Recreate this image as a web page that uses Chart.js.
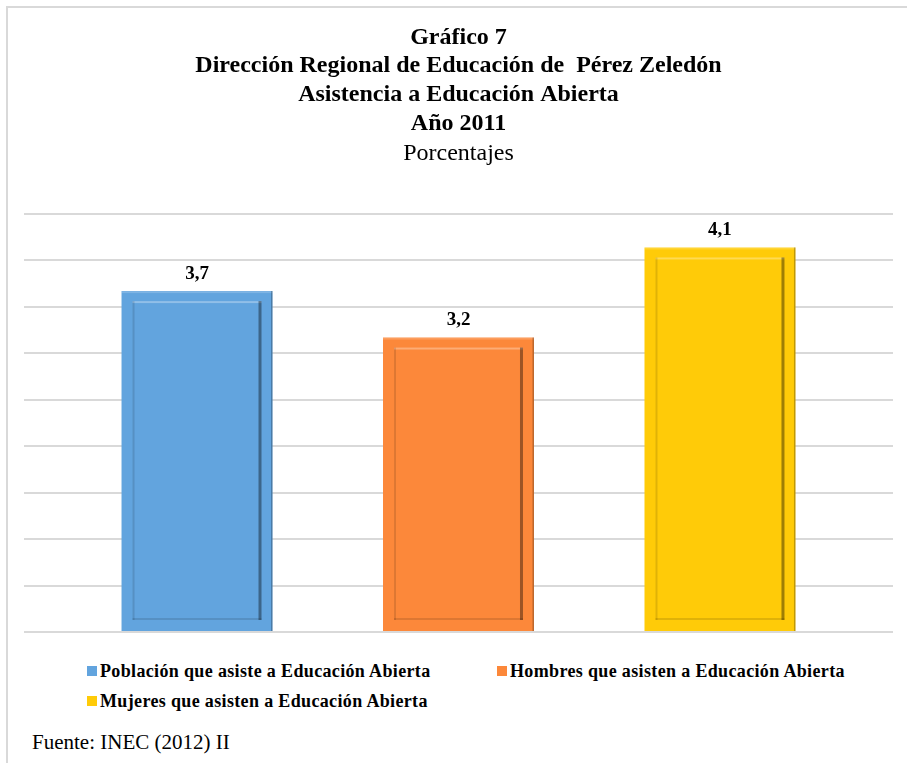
<!DOCTYPE html>
<html>
<head>
<meta charset="utf-8">
<script src="https://cdn.jsdelivr.net/npm/chart.js@4.4.1/dist/chart.umd.min.js"></script>
<style>
    html, body { margin: 0; padding: 0; background: #fff; width: 907px; height: 763px; overflow: hidden; }
    #frame { position: absolute; left: 6px; top: 6px; width: 1000px; height: 900px;
             border-left: 2px solid #d9d9d9; border-top: 2px solid #d9d9d9; }
    #wrap { position: absolute; left: 0; top: 0; width: 907px; height: 640px; }
    #legend { position: absolute; left: 87px; top: 660px; margin: 0; padding: 0; list-style: none;
              display: grid; grid-template-columns: 410px auto; row-gap: 8px;
              font: bold 18px "Liberation Serif", "DejaVu Serif", serif; letter-spacing: 0.35px; color: #000; }
    #legend li { display: flex; align-items: center; height: 22px; white-space: nowrap; }
    #legend .box { width: 10px; height: 10px; margin-right: 3px; flex: none; }
    #source { position: absolute; left: 32px; top: 730px; font: 21px "Liberation Serif", "DejaVu Serif", serif; color: #000; }
</style>
</head>
<body>
<div id="frame"></div>
<div id="wrap"><canvas id="chart"></canvas></div>
<ul id="legend"></ul>
<div id="source">Fuente: INEC (2012) II</div>
<script>
// Data
const CATEGORY = [''];
const SERIES_NAMES = [
    'Población que asiste a Educación Abierta',
    'Hombres que asisten a Educación Abierta',
    'Mujeres que asisten a Educación Abierta'
];
const SERIES_VALUES = [3.67, 3.17, 4.14];
const SERIES_COLORS = ['#62a4de', '#fc883a', '#ffcb08'];
const Y_MAX = 4.5;
const Y_STEP = 0.5;

const SERIF = '"Liberation Serif", "DejaVu Serif", serif';

// value labels above each bar, comma as decimal mark
const valueLabels = {
    id: 'valueLabels',
    afterDatasetsDraw(chart) {
        const ctx = chart.ctx;
        ctx.save();
        ctx.font = 'bold 19px ' + SERIF;
        ctx.fillStyle = '#000';
        ctx.textAlign = 'center';
        ctx.textBaseline = 'middle';
        chart.data.datasets.forEach((ds, i) => {
            const bar = chart.getDatasetMeta(i).data[0];
            const txt = Number(ds.data[0]).toFixed(1).replace('.', ',');
            ctx.fillText(txt, bar.x, bar.y - 17);
        });
        ctx.restore();
    }
};

// bevel look of the Excel bars
const bevel = {
    id: 'bevel',
    afterDatasetsDraw(chart) {
        const ctx = chart.ctx;
        const inset = 11;
        ctx.save();
        chart.data.datasets.forEach((ds, i) => {
            const bar = chart.getDatasetMeta(i).data[0];
            const p = bar.getProps(['x', 'y', 'base', 'width'], true);
            const l = p.x - p.width / 2, r = p.x + p.width / 2;
            const t = p.y, b = p.base;
            // outer edges
            ctx.fillStyle = 'rgba(255,255,255,0.18)';
            ctx.fillRect(l, t, r - l, 2);
            ctx.fillStyle = 'rgba(0,0,0,0.25)';
            ctx.fillRect(r - 1.5, t, 1.5, b - t);
            // inner panel edges
            const il = l + inset, ir = r - inset, it = t + inset - 1, ib = b - inset;
            ctx.fillStyle = 'rgba(255,255,255,0.3)';
            ctx.fillRect(il, it, ir - il, 2);
            ctx.fillStyle = 'rgba(0,0,0,0.12)';
            ctx.fillRect(il, it, 2, ib - it);
            ctx.fillRect(il, ib - 2, ir - il, 2);
            ctx.fillStyle = 'rgba(0,0,0,0.38)';
            ctx.fillRect(ir - 3, it, 3, ib - it);
        });
        ctx.restore();
    }
};

function buildLegend(chart) {
    const ul = document.getElementById('legend');
    ul.innerHTML = '';
    const items = chart.options.plugins.legend.labels.generateLabels(chart);
    items.forEach(item => {
        const li = document.createElement('li');
        const box = document.createElement('span');
        box.className = 'box';
        box.style.background = item.fillStyle;
        const txt = document.createElement('span');
        txt.textContent = item.text;
        li.appendChild(box);
        li.appendChild(txt);
        ul.appendChild(li);
    });
}

const ctx = document.getElementById('chart').getContext('2d');
const chart = new Chart(ctx, {
    type: 'bar',
    data: {
        labels: CATEGORY,
        datasets: SERIES_NAMES.map((name, i) => ({
            label: name,
            data: [SERIES_VALUES[i]],
            backgroundColor: SERIES_COLORS[i],
            borderWidth: 0,
            categoryPercentage: 0.9027,
            barPercentage: 0.5774
        }))
    },
    options: {
        responsive: true,
        maintainAspectRatio: false,
        animation: false,
        layout: { padding: { left: 24, right: 14, top: 0, bottom: 8 } },
        plugins: {
            legend: { display: false },
            tooltip: { enabled: false },
            title: {
                display: true,
                text: ['Gráfico 7', 'Dirección Regional de Educación de  Pérez Zeledón', 'Asistencia a Educación Abierta', 'Año 2011'],
                color: '#000',
                font: { family: SERIF, size: 24, weight: 'bold', lineHeight: 1.2 },
                padding: { top: 23, bottom: 0 }
            },
            subtitle: {
                display: true,
                text: 'Porcentajes',
                color: '#000',
                font: { family: SERIF, size: 24, weight: 'normal', lineHeight: 1.2 },
                padding: { top: 1, bottom: 46 }
            }
        },
        scales: {
            x: { display: false },
            y: {
                min: 0, max: Y_MAX,
                ticks: { display: false, stepSize: Y_STEP },
                border: { display: false },
                grid: { color: '#d9d9d9', lineWidth: 2, drawTicks: false }
            }
        }
    },
    plugins: [valueLabels, bevel]
});

buildLegend(chart);
</script>
</body>
</html>
